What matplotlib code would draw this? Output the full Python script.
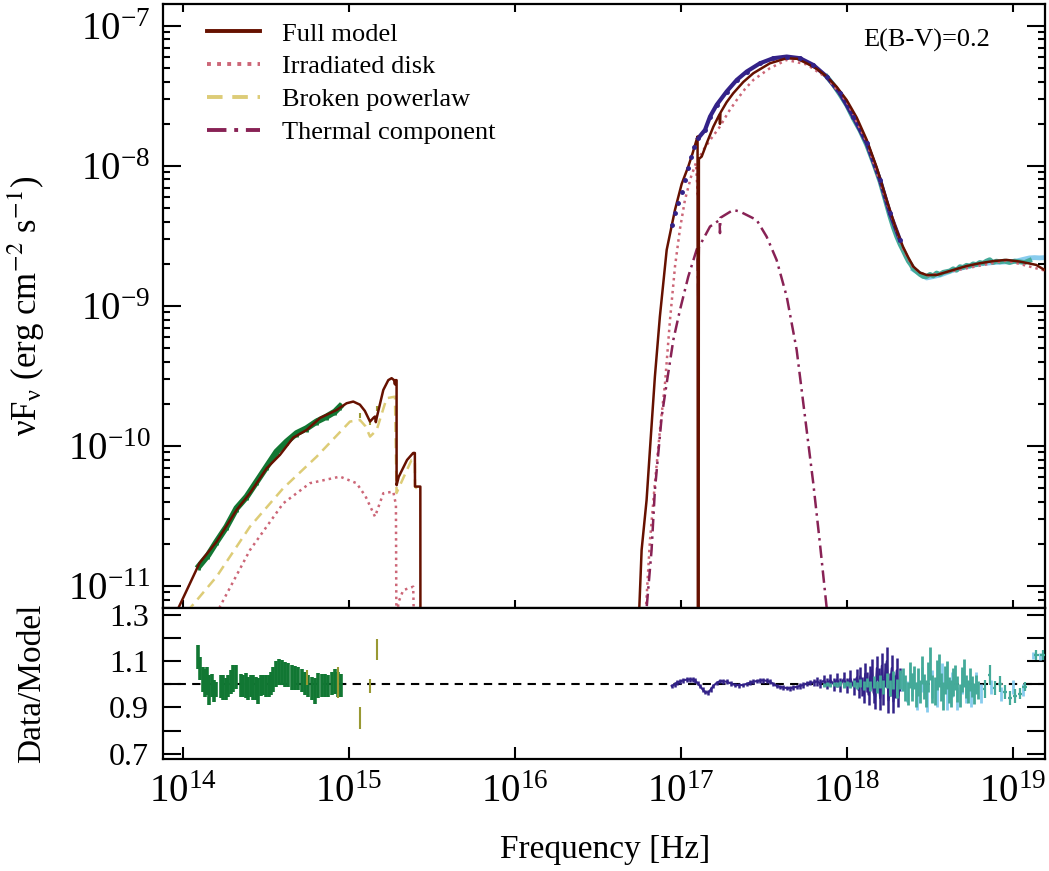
import numpy as np
import matplotlib
matplotlib.use('Agg')
import matplotlib.pyplot as plt

plt.rcParams['font.family'] = ['Liberation Serif', 'DejaVu Serif']
plt.rcParams['mathtext.fontset'] = 'stix'

# ---- model curves (log10 nu [Hz], log10 nuFnu [erg cm^-2 s^-1]) ----
full_opt_lognu = [13.94, 14.10, 14.203, 14.323, 14.404, 14.504, 14.584, 14.665, 14.745, 14.826,
                  14.926, 14.986, 15.026, 15.066, 15.096, 15.127, 15.147, 15.157, 15.162, 15.167,
                  15.207, 15.237, 15.257, 15.272, 15.277, 15.280, 15.287, 15.287, 15.30, 15.35,
                  15.387, 15.397, 15.398, 15.430, 15.431]
full_opt_logf = [-11.24, -10.836, -10.683, -10.457, -10.336, -10.16, -10.064, -9.94, -9.886, -9.80,
                 -9.743, -9.695, -9.683, -9.705, -9.75, -9.826, -9.80, -9.79, -9.83, -9.80,
                 -9.60, -9.53, -9.516, -9.53, -9.56, -9.53, -9.53, -10.28, -10.22, -10.10,
                 -10.05, -10.05, -10.29, -10.29, -12.0]

full_x_lognu = [16.72, 16.749, 16.763, 16.793, 16.813, 16.843, 16.873, 16.914, 16.964, 17.004,
                17.044, 17.070, 17.094, 17.100, 17.102, 17.106, 17.108, 17.125, 17.155, 17.195,
                17.233, 17.235, 17.238, 17.275, 17.315, 17.376, 17.436, 17.536, 17.637, 17.70,
                17.757, 17.818, 17.878, 17.938, 17.998, 18.059, 18.119, 18.179, 18.239, 18.290,
                18.337, 18.37, 18.40, 18.44, 18.48, 18.54, 18.64, 18.72, 18.80, 18.88,
                18.96, 19.04, 19.10, 19.14, 19.20]
full_x_logf = [-11.6, -11.16, -10.743, -10.386, -10.029, -9.505, -9.076, -8.60, -8.314, -8.13,
               -8.005, -7.91, -7.814, -7.79, -12.0, -12.0, -7.95, -7.933, -7.838, -7.72,
               -7.63, -7.70, -7.62, -7.545, -7.481, -7.40, -7.338, -7.267, -7.231, -7.235,
               -7.267, -7.307, -7.362, -7.435, -7.529, -7.655, -7.814, -8.01, -8.243, -8.43,
               -8.576, -8.655, -8.719, -8.762, -8.779, -8.779, -8.743, -8.715, -8.695, -8.680,
               -8.671, -8.683, -8.697, -8.707, -8.75]

disk_opt_lognu = [14.21, 14.223, 14.404, 14.604, 14.765, 14.946, 15.046, 15.10, 15.157, 15.207,
                  15.267, 15.283, 15.287, 15.297, 15.327, 15.387, 15.398]
disk_opt_logf = [-11.25, -11.147, -10.743, -10.41, -10.266, -10.219, -10.266, -10.36, -10.505, -10.338,
                 -10.326, -10.42, -11.6, -11.12, -11.03, -11.005, -11.6]

disk_x_lognu = [16.76, 16.789, 16.813, 16.843, 16.874, 16.904, 16.934, 16.964, 16.994, 17.024,
                17.06, 17.09, 17.102, 17.106, 17.114, 17.135, 17.185, 17.235, 17.286, 17.336,
                17.386, 17.436, 17.536, 17.637, 17.757, 17.878, 17.998, 18.119, 18.239, 18.337,
                18.40, 18.48, 18.64, 18.96, 19.20]
disk_x_logf = [-11.5, -11.16, -10.68, -10.266, -9.88, -9.552, -9.10, -8.719, -8.45, -8.243,
               -8.08, -7.98, -8.22, -7.96, -7.933, -7.886, -7.80, -7.719, -7.615, -7.529,
               -7.45, -7.386, -7.302, -7.243, -7.275, -7.37, -7.54, -7.83, -8.26, -8.59,
               -8.73, -8.785, -8.75, -8.675, -8.75]

bpl_lognu = [14.00, 14.042, 14.203, 14.404, 14.604, 14.805, 15.006, 15.066, 15.10, 15.127,
             15.147, 15.167, 15.227, 15.277, 15.287, 15.30, 15.377, 15.397, 15.398, 15.43]
bpl_logf = [-11.30, -11.16, -10.933, -10.576, -10.302, -10.077, -9.826, -9.814, -9.86, -9.933,
            -9.91, -9.886, -9.659, -9.648, -10.336, -10.30, -10.10, -10.10, -10.29, -10.33]

therm_lognu = [16.77, 16.793, 16.823, 16.843, 16.884, 16.914, 16.954, 16.994, 17.044, 17.094,
               17.100, 17.104, 17.108, 17.175, 17.233, 17.235, 17.238, 17.315, 17.355, 17.456,
               17.516, 17.576, 17.637, 17.697, 17.747, 17.797, 17.837, 17.878, 17.90]
therm_logf = [-11.5, -11.16, -10.743, -10.314, -9.79, -9.552, -9.243, -9.029, -8.791, -8.60,
              -8.58, -8.93, -8.58, -8.433, -8.386, -8.48, -8.37, -8.314, -8.326, -8.386,
              -8.505, -8.671, -8.933, -9.314, -9.790, -10.266, -10.695, -11.159, -11.5]

# ---- data, top panel ----
green_lognu = [14.098, 14.152, 14.203, 14.263, 14.323, 14.384, 14.444, 14.504, 14.564, 14.625,
               14.685, 14.745, 14.805, 14.866, 14.916, 14.946]
green_logf = [-10.857, -10.779, -10.683, -10.576, -10.445, -10.362, -10.255, -10.148, -10.041, -9.969,
              -9.909, -9.874, -9.826, -9.790, -9.755, -9.719]

olive_lognu = [14.745, 14.932, 15.066, 15.127, 15.167]
olive_logf = [-9.87, -9.74, -9.78, -9.83, -9.73]

indigo_lognu = [16.944, 16.964, 16.984, 17.004, 17.024, 17.044, 17.058, 17.078, 17.104, 17.145,
                17.175, 17.215, 17.275, 17.336, 17.396, 17.476, 17.556, 17.637, 17.717, 17.797,
                17.878, 17.958, 18.038, 18.119, 18.199, 18.259, 18.319]
indigo_logf = [-8.421, -8.338, -8.267, -8.183, -8.10, -8.016, -7.933, -7.862, -7.802, -7.743,
               -7.648, -7.564, -7.469, -7.386, -7.326, -7.267, -7.231, -7.219, -7.231, -7.279,
               -7.362, -7.481, -7.648, -7.838, -8.10, -8.338, -8.529]

teal_lognu = [17.878, 17.918, 17.958, 17.998, 18.038, 18.078, 18.119, 18.159, 18.199, 18.229,
              18.259, 18.280, 18.300, 18.320, 18.337, 18.355, 18.370, 18.385, 18.400, 18.420,
              18.440, 18.460, 18.480, 18.500, 18.520, 18.540, 18.560, 18.580, 18.600, 18.620,
              18.640, 18.660, 18.680, 18.700, 18.720, 18.740, 18.760, 18.780, 18.800, 18.820,
              18.840, 18.860, 18.880, 18.900, 18.920, 18.950, 18.980, 19.010, 19.040, 19.070, 19.100]
teal_logf = [-7.362, -7.420, -7.490, -7.565, -7.660, -7.745, -7.850, -7.975, -8.110, -8.235,
             -8.360, -8.440, -8.505, -8.560, -8.600, -8.645, -8.680, -8.705, -8.735, -8.755,
             -8.775, -8.790, -8.790, -8.775, -8.785, -8.765, -8.775, -8.760, -8.755, -8.750,
             -8.735, -8.745, -8.720, -8.725, -8.710, -8.715, -8.700, -8.705, -8.690, -8.695,
             -8.680, -8.670, -8.690, -8.680, -8.685, -8.680, -8.690, -8.680, -8.685, -8.690, -8.675]

cyan_lognu = [18.40, 18.48, 18.56, 18.64, 18.72, 18.80, 18.88, 18.96, 19.02, 19.06, 19.10, 19.13, 19.16, 19.19]
cyan_logf = [-8.74, -8.80, -8.78, -8.745, -8.72, -8.70, -8.69, -8.685, -8.68, -8.668, -8.657, -8.655, -8.657, -8.655]

# ---- residuals (data/model) ----
green_res_lognu = [14.092, 14.102, 14.119, 14.133, 14.146, 14.159, 14.173, 14.187, 14.199, 14.227,
                   14.243, 14.259, 14.273, 14.287, 14.303, 14.317, 14.348, 14.363, 14.380, 14.393,
                   14.410, 14.424, 14.440, 14.454, 14.468, 14.484, 14.500, 14.516, 14.532, 14.544,
                   14.560, 14.577, 14.595, 14.614, 14.634, 14.655, 14.675, 14.695, 14.715, 14.735,
                   14.755, 14.775, 14.795, 14.815, 14.836, 14.855, 14.875, 14.896, 14.916, 14.936, 14.950]
green_res = [1.119, 1.067, 1.021, 1.007, 1.014, 0.974, 0.996, 0.971, 0.979, 0.990,
             0.986, 0.979, 0.993, 1.010, 1.026, 1.031, 0.996, 0.993, 0.993, 0.981,
             0.993, 0.986, 0.981, 0.971, 0.996, 0.997, 0.993, 0.993, 1.003, 1.021,
             1.044, 1.052, 1.050, 1.043, 1.041, 1.029, 1.027, 1.024, 1.017, 1.003,
             0.993, 0.981, 0.971, 0.993, 0.996, 0.996, 0.993, 1.003, 1.014, 0.999, 0.996]
green_res_err = [0.052, 0.050, 0.054, 0.061, 0.061, 0.064, 0.050, 0.046, 0.032, 0.051,
                 0.054, 0.046, 0.046, 0.050, 0.059, 0.050, 0.050, 0.046, 0.054, 0.050,
                 0.046, 0.054, 0.050, 0.054, 0.046, 0.044, 0.046, 0.046, 0.050, 0.054,
                 0.055, 0.055, 0.054, 0.054, 0.052, 0.052, 0.052, 0.050, 0.050, 0.050,
                 0.046, 0.050, 0.054, 0.054, 0.050, 0.050, 0.046, 0.050, 0.054, 0.054, 0.050]

olive_res = [1.029, 1.007, 0.855, 0.993, 1.150]
olive_res_err = [0.031, 0.068, 0.048, 0.029, 0.045]

indigo_res_lognu = [16.944, 16.964, 16.974, 16.994, 17.014, 17.034, 17.054, 17.070, 17.084, 17.100,
                    17.114, 17.130, 17.145, 17.164, 17.180, 17.195, 17.215, 17.235, 17.255, 17.275,
                    17.300, 17.325, 17.350, 17.375, 17.396, 17.416, 17.436, 17.456, 17.476, 17.496,
                    17.516, 17.536, 17.556, 17.576, 17.596, 17.616, 17.637, 17.657, 17.677, 17.697,
                    17.717, 17.737, 17.757, 17.777, 17.80, 17.82, 17.84, 17.86, 17.88, 17.90,
                    17.92, 17.94, 17.96, 17.98, 18.00, 18.02, 18.04, 18.06, 18.07, 18.08,
                    18.09, 18.10, 18.11, 18.12, 18.13, 18.14, 18.15, 18.16, 18.17, 18.18,
                    18.19, 18.20, 18.21, 18.22, 18.23, 18.24, 18.25, 18.26, 18.27, 18.28,
                    18.29, 18.30, 18.31, 18.32]
indigo_res = [0.993, 1.000, 1.007, 1.012, 1.017, 1.020, 1.021, 1.020, 1.017, 1.005,
              0.993, 0.978, 0.967, 0.964, 0.978, 0.993, 1.006, 1.014, 1.013, 1.011,
              1.004, 0.997, 0.996, 0.997, 1.002, 1.007, 1.011, 1.014, 1.016, 1.017,
              1.015, 1.011, 1.002, 0.993, 0.989, 0.986, 0.984, 0.983, 0.986, 0.989,
              0.993, 0.997, 1.003, 1.007, 1.008, 1.012, 1.004, 1.016, 1.003, 1.018,
              1.000, 1.020, 0.998, 1.022, 0.995, 1.025, 0.990, 1.030, 0.975, 1.035,
              0.990, 0.960, 1.045, 1.010, 0.955, 1.030, 1.060, 0.965, 0.945, 1.070,
              1.020, 0.940, 1.080, 0.960, 1.040, 1.100, 0.930, 1.000, 1.070, 0.925,
              0.990, 1.060, 0.950, 1.020]
indigo_res_err = [0.010, 0.010, 0.010, 0.010, 0.010, 0.010, 0.010, 0.010, 0.010, 0.010,
                  0.010, 0.010, 0.010, 0.010, 0.010, 0.010, 0.010, 0.010, 0.010, 0.010,
                  0.010, 0.010, 0.010, 0.010, 0.010, 0.010, 0.010, 0.010, 0.010, 0.010,
                  0.010, 0.010, 0.010, 0.010, 0.010, 0.010, 0.010, 0.010, 0.010, 0.010,
                  0.012, 0.012, 0.012, 0.012, 0.016, 0.018, 0.020, 0.022, 0.024, 0.026,
                  0.028, 0.030, 0.030, 0.032, 0.034, 0.035, 0.036, 0.038, 0.035, 0.040,
                  0.040, 0.040, 0.045, 0.045, 0.045, 0.050, 0.050, 0.045, 0.050, 0.050,
                  0.050, 0.050, 0.055, 0.050, 0.050, 0.060, 0.055, 0.050, 0.055, 0.050,
                  0.050, 0.055, 0.050, 0.050]

teal_res_lognu = [17.86, 17.88, 17.90, 17.92, 17.94, 17.96, 17.98, 18.00, 18.02, 18.04,
                  18.06, 18.08, 18.10, 18.12, 18.14, 18.16, 18.18, 18.20, 18.22, 18.24,
                  18.26, 18.28, 18.30, 18.32, 18.340, 18.352, 18.365, 18.378, 18.390, 18.402,
                  18.415, 18.428, 18.440, 18.452, 18.465, 18.478, 18.490, 18.502, 18.515, 18.528,
                  18.540, 18.552, 18.565, 18.578, 18.590, 18.602, 18.615, 18.628, 18.640, 18.652,
                  18.665, 18.678, 18.690, 18.702, 18.715, 18.728, 18.740, 18.752, 18.765, 18.778, 18.790]
teal_res = [0.998, 1.000, 0.997, 1.001, 0.999, 1.002, 0.998, 1.003, 0.997, 1.004,
            0.996, 1.006, 0.995, 1.008, 0.993, 1.010, 0.990, 1.012, 0.988, 1.015,
            0.985, 1.018, 0.982, 1.020, 1.020, 0.985, 0.960, 1.040, 0.990, 1.030,
            0.955, 1.010, 0.970, 1.060, 0.990, 0.960, 1.030, 1.090, 0.980, 0.970,
            1.040, 1.060, 0.990, 0.950, 1.020, 1.040, 0.975, 0.960, 1.010, 1.030,
            0.980, 0.950, 1.020, 1.050, 0.990, 0.970, 1.020, 0.990, 0.960, 1.000, 0.975]
teal_res_err = [0.008, 0.008, 0.009, 0.010, 0.010, 0.011, 0.012, 0.012, 0.013, 0.014,
                0.015, 0.016, 0.018, 0.020, 0.022, 0.024, 0.026, 0.028, 0.030, 0.032,
                0.035, 0.038, 0.040, 0.042, 0.050, 0.055, 0.050, 0.055, 0.060, 0.050,
                0.055, 0.060, 0.050, 0.060, 0.055, 0.060, 0.065, 0.070, 0.060, 0.060,
                0.065, 0.070, 0.060, 0.060, 0.060, 0.060, 0.055, 0.060, 0.060, 0.055,
                0.055, 0.050, 0.055, 0.060, 0.050, 0.050, 0.050, 0.045, 0.045, 0.040, 0.040]

teal_bin_lognu = [18.83, 18.86, 18.89, 18.92, 18.95, 18.98, 19.01, 19.04, 19.07, 19.14, 19.18]
teal_bin_res = [0.980, 1.040, 0.985, 1.000, 0.965, 0.940, 0.950, 0.960, 0.990, 1.126, 1.126]
teal_bin_err = [0.040, 0.045, 0.030, 0.035, 0.030, 0.030, 0.030, 0.025, 0.020, 0.020, 0.020]
teal_bin_xerr = [0.010, 0.010, 0.010, 0.012, 0.012, 0.012, 0.012, 0.012, 0.014, 0.016, 0.016]

cyan_res_lognu = [18.30, 18.33, 18.36, 18.39, 18.42, 18.45, 18.48, 18.51, 18.54, 18.57,
                  18.60, 18.63, 18.66, 18.69, 18.72, 18.75, 18.78, 18.81, 18.87, 18.93,
                  19.00, 19.06, 19.12, 19.16]
cyan_res = [0.985, 1.010, 0.970, 1.000, 0.950, 1.020, 0.930, 1.000, 0.960, 1.030,
            0.950, 1.000, 0.940, 1.010, 0.970, 0.950, 1.010, 0.960, 0.990, 0.960,
            0.990, 0.975, 1.126, 1.120]
cyan_res_err = [0.030, 0.040, 0.045, 0.050, 0.060, 0.055, 0.050, 0.060, 0.060, 0.060,
                0.060, 0.055, 0.050, 0.050, 0.050, 0.050, 0.045, 0.040, 0.030, 0.030,
                0.030, 0.025, 0.015, 0.015]

# axis ticks
flux_ticks = [1e-11, 1e-10, 1e-9, 1e-8, 1e-7]
freq_ticks = [1e14, 1e15, 1e16, 1e17, 1e18, 1e19]

# colours
c_full = '#661100'
c_disk = '#CC6677'
c_bpl = '#DDCC77'
c_therm = '#882255'
c_green = '#117733'
c_olive = '#999933'
c_indigo = '#332288'
c_teal = '#44AA99'
c_cyan = '#88CCEE'


def p(a):
    return 10 ** np.asarray(a)


fig = plt.figure(figsize=(10.49, 8.71), dpi=100)
ax = fig.add_axes([0.1554, 0.3020, 0.8408, 0.6935])
ax2 = fig.add_axes([0.1554, 0.1286, 0.8408, 0.1734], sharex=ax)

# data in the top panel
ax.errorbar(p(green_lognu), p(green_logf), yerr=p(green_logf) * 0.06, fmt='-', color=c_green,
            lw=4.5, elinewidth=2, capsize=0, zorder=2)
ax.errorbar(p(olive_lognu), p(olive_logf), yerr=p(olive_logf) * 0.04, fmt='none', ecolor=c_olive,
            elinewidth=1.5, capsize=0, zorder=2)
ax.plot(p(cyan_lognu), p(cyan_logf), color=c_cyan, lw=3.5, zorder=2)
ax.plot(p(teal_lognu), p(teal_logf), color=c_teal, lw=3.5, zorder=2)
ax.errorbar(p(teal_lognu), p(teal_logf), yerr=p(teal_logf) * 0.03, fmt='none', ecolor=c_teal,
            elinewidth=1.2, capsize=0, zorder=2)
ax.plot(p(indigo_lognu[8:]), p(indigo_logf[8:]), color=c_indigo, lw=3, zorder=2)
ax.plot(p(indigo_lognu), p(indigo_logf), 'o', color=c_indigo, ms=2.5, zorder=6)

# model components
ax.plot(p(full_opt_lognu), p(full_opt_logf), color=c_full, lw=1.8, zorder=5, label='Full model')
ax.plot(p(full_x_lognu), p(full_x_logf), color=c_full, lw=1.8, zorder=5)
ax.plot(p(disk_opt_lognu), p(disk_opt_logf), color=c_disk, lw=1.8, ls=(0, (1, 1.6)), zorder=4,
        label='Irradiated disk')
ax.plot(p(disk_x_lognu), p(disk_x_logf), color=c_disk, lw=1.8, ls=(0, (1, 1.6)), zorder=4)
ax.plot(p(bpl_lognu), p(bpl_logf), color=c_bpl, lw=1.8, ls=(0, (4, 2.5)), zorder=4,
        label='Broken powerlaw')
ax.plot(p(therm_lognu), p(therm_logf), color=c_therm, lw=1.8, ls=(0, (5, 2, 1, 2)), zorder=4,
        label='Thermal component')

ax.set_xscale('log')
ax.set_yscale('log')
ax.set_xlim(10 ** 13.88, 10 ** 19.193)
ax.set_ylim(10 ** -11.157, 10 ** -6.843)
ax.set_yticks(flux_ticks)
ax.set_yticks([m * t for t in [1e-12] + flux_ticks for m in range(2, 10)
               if 10 ** -11.157 < m * t < 10 ** -6.843], minor=True)
ax.yaxis.set_minor_formatter(matplotlib.ticker.NullFormatter())
ax.set_xticks(freq_ticks)

leg = ax.legend(loc='upper left', bbox_to_anchor=(0.05, 0.97), frameon=False, fontsize=19,
                handlelength=2.0, handletextpad=0.85, labelspacing=0.36, borderpad=0,
                borderaxespad=0)
for ln in leg.get_lines():
    ln.set_linewidth(2.8)

ax.text(0.9376, 0.94, 'E(B-V)=0.2', transform=ax.transAxes, ha='right', va='center', fontsize=19)

ax.set_ylabel('νF$_\\mathregular{ν}$ (erg cm$^{-2}$ s$^{-1}$)', fontsize=25)
ax.yaxis.set_label_coords(-0.131, 0.5)
ax.xaxis.set_minor_locator(matplotlib.ticker.NullLocator())
plt.setp(ax.get_xticklabels(), visible=False)
ax.tick_params(which='both', direction='in', top=True, right=True, width=1.5)
ax.tick_params(axis='y', which='major', length=13, labelsize=28, pad=9)
ax.tick_params(axis='y', which='minor', length=5)
ax.tick_params(axis='x', which='major', length=6)
for s in ax.spines.values():
    s.set_linewidth(1.6)

# residual panel
ax2.axhline(1.0, color='k', ls=(0, (4, 3)), lw=1.5, zorder=1)
ax2.errorbar(p(green_res_lognu), green_res, yerr=green_res_err, fmt='none', ecolor=c_green,
             elinewidth=2.6, capsize=0, zorder=2)
ax2.errorbar(p(olive_lognu), olive_res, yerr=olive_res_err, fmt='none', ecolor=c_olive,
             elinewidth=1.5, capsize=0, zorder=3)
ax2.errorbar(p(indigo_res_lognu), indigo_res, yerr=indigo_res_err, fmt='-', color=c_indigo,
             lw=1.5, elinewidth=1.8, capsize=0, zorder=2)
ax2.errorbar(p(cyan_res_lognu), cyan_res, yerr=cyan_res_err, fmt='none', ecolor=c_cyan,
             elinewidth=2.0, capsize=0, zorder=2)
ax2.errorbar(p(teal_res_lognu), teal_res, yerr=teal_res_err, fmt='none', ecolor=c_teal,
             elinewidth=2.0, capsize=0, zorder=3)
ax2.errorbar(p(teal_bin_lognu), teal_bin_res, yerr=teal_bin_err,
             xerr=[p(teal_bin_lognu) - p(np.asarray(teal_bin_lognu) - np.asarray(teal_bin_xerr)),
                   p(np.asarray(teal_bin_lognu) + np.asarray(teal_bin_xerr)) - p(teal_bin_lognu)],
             fmt='none', ecolor=c_teal, elinewidth=1.6, capsize=0, zorder=3)

ax2.set_ylim(0.678, 1.329)
ax2.set_yticks([0.7, 0.9, 1.1, 1.3])
ax2.set_yticks([0.8, 1.0, 1.2], minor=True)
ax2.xaxis.set_minor_locator(matplotlib.ticker.NullLocator())
ax2.tick_params(which='both', direction='in', right=True, top=False, width=1.5)
ax2.tick_params(axis='y', which='both', length=13, labelsize=23, pad=10)
ax2.tick_params(axis='x', which='major', length=9, labelsize=28, pad=11)
ax2.set_ylabel('Data/Model', fontsize=24)
ax2.yaxis.set_label_coords(-0.131, 0.5)
ax2.set_xlabel('Frequency [Hz]', fontsize=24)
ax2.xaxis.set_label_coords(0.5017, -0.50)
for s in ax2.spines.values():
    s.set_linewidth(1.6)

fig.savefig('out.png', dpi=100)
